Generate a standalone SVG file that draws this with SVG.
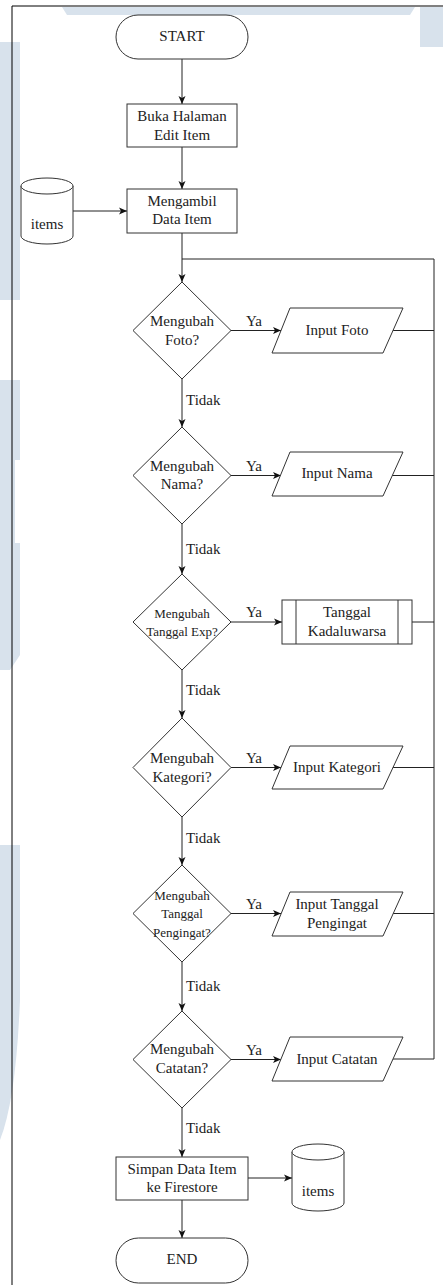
<svg xmlns="http://www.w3.org/2000/svg" width="443" height="1285" viewBox="0 0 443 1285">
<style>
.s{fill:#fff;stroke:#333;stroke-width:1}
.t{font-family:"Liberation Serif","Times New Roman",serif;font-size:15px;fill:#222;text-anchor:middle;dominant-baseline:central}
.ts{font-size:13px}
.l{font-family:"Liberation Serif","Times New Roman",serif;font-size:15px;fill:#222;dominant-baseline:central}
.c{fill:none;stroke:#222;stroke-width:1}
.wm{fill:#d8e2ec}
</style>
<defs>
<marker id="ah" markerWidth="9" markerHeight="8" refX="8" refY="4" orient="auto" markerUnits="userSpaceOnUse">
<path d="M0,0.5 L8,4 L0,7.5 L2,4 z" fill="#111"/>
</marker>
</defs>
<g id="watermark">
<polygon class="wm" points="62,7 415,7 410,15 67,15"/>
<rect class="wm" x="0" y="42" width="20" height="258"/>
<polygon class="wm" points="0,380 20,380 20,460 15,460 15,543 20,543 20,655 10,670 0,670"/>
<path class="wm" d="M0,845 L20,845 L20,1000 Q16,1100 0,1140 Z"/>
<rect class="wm" x="420" y="7" width="23" height="40"/>
</g>
<g id="frame">
<path d="M12,1285 L12,6 L443,6" fill="none" stroke="#000" stroke-width="1"/>
</g>
<g id="connectors">
<path class="c" d="M182,59 L182,104" marker-end="url(#ah)"/>
<path class="c" d="M182,147 L182,189" marker-end="url(#ah)"/>
<path class="c" d="M73,211 L127,211" marker-end="url(#ah)"/>
<path class="c" d="M182,233 L182,282" marker-end="url(#ah)"/>
<path class="c" d="M182,259 L434,259 L434,1059 L392,1059"/>
<path class="c" d="M231,330.5 L281,330.5" marker-end="url(#ah)"/>
<path class="c" d="M392,330.5 L434,330.5"/>
<path class="c" d="M182,379 L182,427" marker-end="url(#ah)"/>
<path class="c" d="M231,475.5 L281,475.5" marker-end="url(#ah)"/>
<path class="c" d="M392,475.5 L434,475.5"/>
<path class="c" d="M182,524 L182,574" marker-end="url(#ah)"/>
<path class="c" d="M231,622 L282,622" marker-end="url(#ah)"/>
<path class="c" d="M412,622 L434,622"/>
<path class="c" d="M182,670 L182,718" marker-end="url(#ah)"/>
<path class="c" d="M231,767.5 L281,767.5" marker-end="url(#ah)"/>
<path class="c" d="M392,767.5 L434,767.5"/>
<path class="c" d="M182,817 L182,865" marker-end="url(#ah)"/>
<path class="c" d="M231,913.5 L281,913.5" marker-end="url(#ah)"/>
<path class="c" d="M392,913.5 L434,913.5"/>
<path class="c" d="M182,962 L182,1011" marker-end="url(#ah)"/>
<path class="c" d="M231,1059.5 L281,1059.5" marker-end="url(#ah)"/>
<path class="c" d="M182,1108 L182,1157" marker-end="url(#ah)"/>
<path class="c" d="M248,1178 L292,1178" marker-end="url(#ah)"/>
<path class="c" d="M182,1200 L182,1238" marker-end="url(#ah)"/>
<text class="l" x="246" y="321">Ya</text>
<text class="l" x="246" y="466">Ya</text>
<text class="l" x="246" y="612">Ya</text>
<text class="l" x="246" y="758">Ya</text>
<text class="l" x="246" y="904">Ya</text>
<text class="l" x="246" y="1050">Ya</text>
<text class="l" x="186" y="400">Tidak</text>
<text class="l" x="186" y="549">Tidak</text>
<text class="l" x="186" y="690">Tidak</text>
<text class="l" x="186" y="838">Tidak</text>
<text class="l" x="186" y="986">Tidak</text>
<text class="l" x="186" y="1128">Tidak</text>
</g>
<g id="start">
<rect class="s" x="116" y="15" width="132" height="44" rx="22"/>
<text class="t" x="182" y="36">START</text>
</g>
<g id="buka">
<rect class="s" x="127" y="104" width="110" height="43"/>
<text class="t" x="182" y="116">Buka Halaman</text>
<text class="t" x="182" y="135">Edit Item</text>
</g>
<g id="items1">
<path class="s" d="M21,186 A26,8 0 0 1 73,186 L73,236 A26,8 0 0 1 21,236 Z"/>
<path class="s" fill="none" d="M21,186 A26,8 0 0 0 73,186"/>
<text class="t" x="47" y="224">items</text>
</g>
<g id="mengambil">
<rect class="s" x="127" y="189" width="110" height="44"/>
<text class="t" x="182" y="201">Mengambil</text>
<text class="t" x="182" y="219">Data Item</text>
</g>
<g id="d-foto">
<polygon class="s" points="182,282 231,330.5 182,379 133,330.5"/>
<text class="t" x="182" y="321">Mengubah</text>
<text class="t" x="182" y="340">Foto?</text>
</g>
<g id="in-foto">
<polygon class="s" points="290,308 403,308 383,353 272,353"/>
<text class="t" x="337" y="330">Input Foto</text>
</g>
<g id="d-nama">
<polygon class="s" points="182,427 231,475.5 182,524 133,475.5"/>
<text class="t" x="182" y="466">Mengubah</text>
<text class="t" x="182" y="484">Nama?</text>
</g>
<g id="in-nama">
<polygon class="s" points="290,452 403,452 383,496 272,496"/>
<text class="t" x="337" y="473">Input Nama</text>
</g>
<g id="d-exp">
<polygon class="s" points="182,574 231,622 182,670 133,622"/>
<text class="t ts" x="182" y="613">Mengubah</text>
<text class="t ts" x="182" y="631">Tanggal Exp?</text>
</g>
<g id="tgl-kadaluwarsa">
<rect class="s" x="282" y="600" width="130" height="44"/>
<line class="s" x1="296" y1="600" x2="296" y2="644"/>
<line class="s" x1="398" y1="600" x2="398" y2="644"/>
<text class="t" x="347" y="612">Tanggal</text>
<text class="t" x="347" y="631">Kadaluwarsa</text>
</g>
<g id="d-kategori">
<polygon class="s" points="182,718 231,767.5 182,817 133,767.5"/>
<text class="t" x="182" y="758">Mengubah</text>
<text class="t" x="182" y="777">Kategori?</text>
</g>
<g id="in-kategori">
<polygon class="s" points="290,746 403,746 383,789 272,789"/>
<text class="t" x="337" y="767">Input Kategori</text>
</g>
<g id="d-pengingat">
<polygon class="s" points="182,865 231,913.5 182,962 133,913.5"/>
<text class="t ts" x="182" y="895">Mengubah</text>
<text class="t ts" x="182" y="913">Tanggal</text>
<text class="t ts" x="182" y="932">Pengingat?</text>
</g>
<g id="in-pengingat">
<polygon class="s" points="290,892 403,892 383,936 272,936"/>
<text class="t" x="337" y="904">Input Tanggal</text>
<text class="t" x="337" y="923">Pengingat</text>
</g>
<g id="d-catatan">
<polygon class="s" points="182,1011 231,1059.5 182,1108 133,1059.5"/>
<text class="t" x="182" y="1049">Mengubah</text>
<text class="t" x="182" y="1068">Catatan?</text>
</g>
<g id="in-catatan">
<polygon class="s" points="290,1037 403,1037 383,1081 272,1081"/>
<text class="t" x="337" y="1059">Input Catatan</text>
</g>
<g id="simpan">
<rect class="s" x="116" y="1157" width="132" height="43"/>
<text class="t" x="182" y="1169">Simpan Data Item</text>
<text class="t" x="182" y="1187">ke Firestore</text>
</g>
<g id="items2">
<path class="s" d="M292,1152 A26,8 0 0 1 344,1152 L344,1203 A26,8 0 0 1 292,1203 Z"/>
<path class="s" fill="none" d="M292,1152 A26,8 0 0 0 344,1152"/>
<text class="t" x="318" y="1191">items</text>
</g>
<g id="end">
<rect class="s" x="116" y="1238" width="132" height="45" rx="22.5"/>
<text class="t" x="182" y="1259">END</text>
</g>
</svg>
